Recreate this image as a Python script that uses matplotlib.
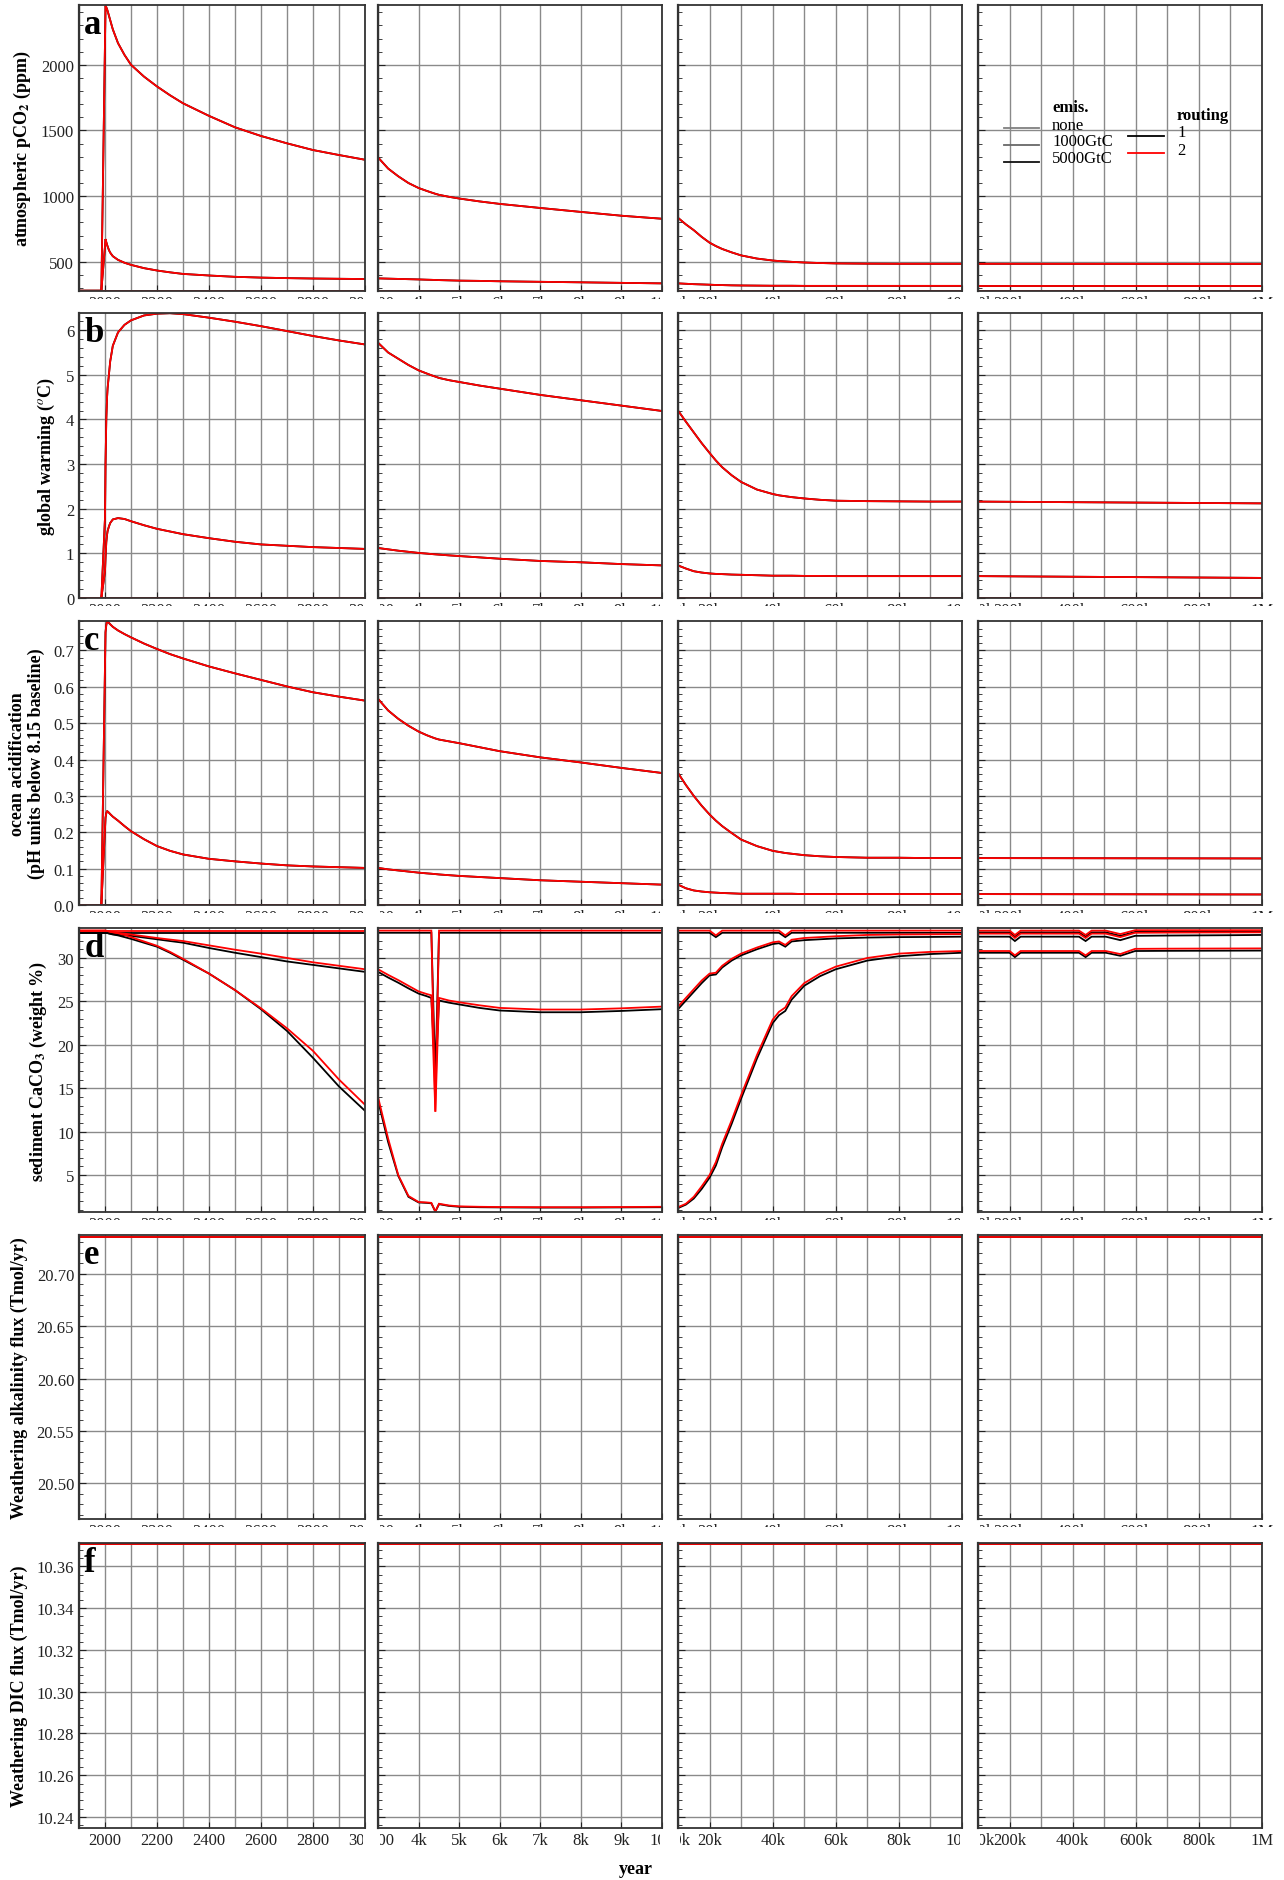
import matplotlib
matplotlib.use("Agg")
import matplotlib.pyplot as plt
from matplotlib.ticker import FixedLocator, FuncFormatter, MultipleLocator, FormatStrFormatter
from matplotlib.transforms import Bbox, TransformedBbox

plt.rcParams["font.family"] = ["Liberation Serif", "DejaVu Serif"]
plt.rcParams["mathtext.fontset"] = "stix"

# ---------------------------------------------------------------- data
# time axis of each column (years)
COL_LIMITS = [(1900, 3000), (3000, 10000), (10000, 100000), (100000, 1000000)]
X1 = [1900, 1986, 2000, 2002, 2005, 2008, 2010, 2015, 2020, 2030, 2050, 2075,
      2100, 2150, 2200, 2250, 2300, 2400, 2500, 2600, 2700, 2800, 2900, 3000]
X2 = [3000, 3250, 3500, 3750, 4000, 4200, 4315, 4413, 4504, 4750, 5000, 5500,
      6000, 7000, 8000, 9000, 10000]
X3 = [10000, 12500, 15000, 17500, 20000, 22000, 24000, 27000, 30000, 35000,
      40000, 42000, 44000, 46000, 50000, 55000, 60000, 70000, 80000, 90000, 100000]
X4 = [100000, 200000, 217000, 235000, 420000, 441000, 460000, 505000, 551000,
      598000, 700000, 800000, 900000, 1000000]
X4_FLAT = [100000, 1000000]

# atmospheric pCO2 (ppm)
PCO2_NONE = [280, 280]
PCO2_1000_1 = [280, 280, 620, 673, 650, 630, 618, 590, 570, 543, 515, 493,
               477, 452, 434, 420, 408, 396, 386, 380, 376, 373, 371, 369]
PCO2_5000_1 = [280, 280, 2180, 2450, 2438, 2422, 2410, 2375, 2340, 2270, 2165, 2075,
               2000, 1910, 1835, 1768, 1707, 1611, 1524, 1458, 1402, 1351, 1313, 1277]
PCO2_1000_2 = [374, 372, 370, 368, 366, 364, 363, 362, 361, 359, 357, 355, 352, 348, 344, 340, 336]
PCO2_5000_2 = [1295, 1210, 1151, 1100, 1062, 1040, 1028, 1018, 1010, 995, 982, 960,
               941, 910, 880, 851, 828]
PCO2_1000_3 = [336, 333, 330, 328, 326, 324, 323, 321, 320, 319, 318, 318, 318, 318,
               317, 317, 317, 317, 317, 317, 317]
PCO2_5000_3 = [835, 785, 741, 690, 646, 620, 598, 572, 549, 525, 510, 506, 503, 500,
               495, 491, 488, 486, 485, 485, 485]
PCO2_1000_4 = [317, 317]
PCO2_5000_4 = [485, 484]

# global warming (deg C)
TEMP_NONE = [0, 0]
TEMP_1000_1 = [0, 0, 0.6, 0.9, 1.25, 1.42, 1.5, 1.6, 1.68, 1.76, 1.79, 1.77,
               1.72, 1.63, 1.55, 1.49, 1.43, 1.34, 1.26, 1.20, 1.17, 1.14, 1.12, 1.10]
TEMP_5000_1 = [0, 0, 1.8, 3.0, 4.0, 4.5, 4.7, 5.0, 5.3, 5.65, 5.95, 6.12,
               6.22, 6.33, 6.37, 6.38, 6.36, 6.28, 6.19, 6.09, 5.98, 5.87, 5.77, 5.68]
TEMP_1000_2 = [1.12, 1.09, 1.06, 1.035, 1.01, 0.995, 0.985, 0.978, 0.972, 0.955, 0.94,
               0.91, 0.88, 0.83, 0.80, 0.76, 0.73]
TEMP_5000_2 = [5.72, 5.5, 5.36, 5.22, 5.1, 5.03, 4.99, 4.96, 4.93, 4.88, 4.84, 4.76,
               4.69, 4.55, 4.43, 4.31, 4.19]
TEMP_1000_3 = [0.73, 0.66, 0.6, 0.57, 0.55, 0.54, 0.535, 0.525, 0.52, 0.51, 0.50, 0.50,
               0.50, 0.50, 0.495, 0.495, 0.49, 0.49, 0.49, 0.49, 0.49]
TEMP_5000_3 = [4.2, 3.95, 3.71, 3.47, 3.25, 3.08, 2.93, 2.75, 2.6, 2.43, 2.33, 2.3,
               2.28, 2.26, 2.23, 2.2, 2.18, 2.17, 2.165, 2.16, 2.16]
TEMP_1000_4 = [0.49, 0.45]
TEMP_5000_4 = [2.16, 2.12]

# ocean acidification (pH units below 8.15)
PH_NONE = [0, 0]
PH_1000_1 = [0, 0, 0.21, 0.24, 0.252, 0.259, 0.257, 0.254, 0.25, 0.243, 0.232, 0.217,
             0.203, 0.181, 0.162, 0.149, 0.139, 0.127, 0.12, 0.114, 0.109, 0.106, 0.104, 0.102]
PH_5000_1 = [0, 0, 0.66, 0.75, 0.77, 0.78, 0.779, 0.776, 0.772, 0.765, 0.755, 0.745,
             0.736, 0.719, 0.704, 0.69, 0.678, 0.656, 0.637, 0.619, 0.601, 0.585, 0.573, 0.562]
PH_1000_2 = [0.102, 0.098, 0.095, 0.092, 0.089, 0.087, 0.086, 0.085, 0.084, 0.082, 0.080,
             0.077, 0.074, 0.068, 0.064, 0.060, 0.056]
PH_5000_2 = [0.567, 0.535, 0.512, 0.493, 0.477, 0.467, 0.462, 0.458, 0.455, 0.45, 0.445,
             0.434, 0.423, 0.406, 0.392, 0.377, 0.363]
PH_1000_3 = [0.056, 0.046, 0.04, 0.037, 0.035, 0.034, 0.033, 0.032, 0.031, 0.031, 0.031,
             0.031, 0.031, 0.031, 0.030, 0.030, 0.030, 0.030, 0.030, 0.030, 0.030]
PH_5000_3 = [0.363, 0.33, 0.30, 0.273, 0.249, 0.232, 0.217, 0.198, 0.18, 0.162, 0.149,
             0.146, 0.143, 0.141, 0.137, 0.134, 0.132, 0.13, 0.13, 0.129, 0.129]
PH_1000_4 = [0.030, 0.029]
PH_5000_4 = [0.129, 0.128]

# sediment CaCO3 (weight %), routing 1 (R1) and routing 2 (R2)
SED_NONE_X1 = [1900, 3000]
SED_NONE_R1_1 = [32.9, 32.9]
SED_NONE_R2_1 = [33.15, 33.15]
SED_1000_R1_1 = [32.9, 32.9, 32.9, 32.89, 32.88, 32.87, 32.86, 32.83, 32.8, 32.75, 32.68, 32.62,
                 32.55, 32.35, 32.15, 31.95, 31.76, 31.15, 30.6, 30.1, 29.6, 29.2, 28.8, 28.4]
SED_1000_R2_1 = [33.15, 33.15, 33.15, 33.14, 33.13, 33.12, 33.1, 33.07, 33.03, 32.98, 32.88, 32.8,
                 32.7, 32.5, 32.3, 32.12, 31.95, 31.45, 30.95, 30.5, 30.0, 29.5, 29.1, 28.7]
SED_5000_R1_1 = [32.9, 32.9, 32.9, 32.89, 32.88, 32.87, 32.86, 32.82, 32.78, 32.7, 32.6, 32.4,
                 32.2, 31.75, 31.3, 30.6, 29.8, 28.2, 26.3, 24.1, 21.6, 18.5, 15.2, 12.4]
SED_5000_R2_1 = [33.15, 33.15, 33.15, 33.14, 33.13, 33.12, 33.1, 33.06, 33.02, 32.95, 32.85, 32.65,
                 32.4, 31.9, 31.4, 30.7, 29.9, 28.2, 26.3, 24.2, 21.9, 19.3, 16.0, 13.1]

SED_NONE_X2 = [3000, 4315, 4413, 4504, 10000]
SED_NONE_R1_2 = [32.9, 32.9, 16.1, 32.9, 32.9]
SED_NONE_R2_2 = [33.15, 33.15, 12.3, 33.15, 33.15]
SED_1000_R1_2 = [28.4, 27.75, 27.15, 26.5, 25.9, 25.6, 25.4, 16.1, 25.1, 24.85, 24.65, 24.25,
                 23.95, 23.75, 23.75, 23.9, 24.1]
SED_1000_R2_2 = [28.7, 28.05, 27.45, 26.8, 26.15, 25.85, 25.7, 12.3, 25.4, 25.1, 24.9, 24.55,
                 24.25, 24.06, 24.06, 24.2, 24.4]
SED_5000_R1_2 = [13.6, 8.8, 4.9, 2.5, 1.85, 1.8, 1.75, 0.8, 1.65, 1.45, 1.35, 1.3,
                 1.28, 1.26, 1.26, 1.28, 1.3]
SED_5000_R2_2 = [14.0, 9.2, 5.0, 2.6, 1.9, 1.85, 1.8, 0.8, 1.7, 1.5, 1.4, 1.35,
                 1.32, 1.3, 1.3, 1.32, 1.35]

SED_NONE_X3 = [10000, 20000, 22000, 24000, 42000, 44000, 46000, 100000]
SED_NONE_R1_3 = [32.9, 32.9, 32.4, 32.9, 32.9, 32.4, 32.9, 32.9]
SED_NONE_R2_3 = [33.15, 33.15, 32.6, 33.15, 33.15, 32.6, 33.15, 33.15]
SED_1000_R1_3 = [24.1, 25.1, 26.1, 27.1, 28.0, 28.1, 28.9, 29.7, 30.3, 31.0, 31.6, 31.7,
                 31.3, 31.9, 32.05, 32.15, 32.25, 32.35, 32.4, 32.42, 32.45]
SED_1000_R2_3 = [24.4, 25.4, 26.4, 27.4, 28.2, 28.3, 29.1, 29.9, 30.5, 31.2, 31.8, 31.9,
                 31.5, 32.1, 32.3, 32.4, 32.5, 32.65, 32.7, 32.72, 32.75]
SED_5000_R1_3 = [1.2, 1.6, 2.3, 3.4, 4.7, 6.1, 8.2, 10.9, 13.8, 18.4, 22.5, 23.4,
                 23.9, 25.2, 26.8, 27.9, 28.7, 29.7, 30.2, 30.45, 30.6]
SED_5000_R2_3 = [1.3, 1.7, 2.5, 3.7, 5.0, 6.5, 8.6, 11.3, 14.2, 18.8, 22.9, 23.8,
                 24.3, 25.6, 27.1, 28.2, 29.0, 30.0, 30.5, 30.7, 30.8]

SED_NONE_R1_4 = [32.95, 32.95, 32.45, 32.95, 32.95, 32.45, 32.95, 32.95, 32.55, 33.0, 33.0, 33.0, 33.0, 33.0]
SED_NONE_R2_4 = [33.15, 33.15, 32.65, 33.15, 33.15, 32.65, 33.15, 33.15, 32.75, 33.2, 33.2, 33.2, 33.2, 33.2]
SED_1000_R1_4 = [32.45, 32.45, 31.95, 32.45, 32.45, 31.95, 32.45, 32.45, 32.05, 32.55, 32.58, 32.6, 32.62, 32.65]
SED_1000_R2_4 = [32.8, 32.8, 32.3, 32.8, 32.8, 32.3, 32.8, 32.8, 32.4, 32.9, 32.92, 32.93, 32.94, 32.95]
SED_5000_R1_4 = [30.6, 30.6, 30.1, 30.6, 30.6, 30.1, 30.6, 30.6, 30.25, 30.8, 30.82, 30.83, 30.84, 30.85]
SED_5000_R2_4 = [30.8, 30.8, 30.3, 30.8, 30.8, 30.3, 30.8, 30.8, 30.45, 31.05, 31.07, 31.08, 31.09, 31.1]

# weathering fluxes (Tmol/yr), constant in every run
ALK_FLUX = [20.735, 20.735]
DIC_FLUX = [10.3705, 10.3705]

ROW_LETTERS = ["a", "b", "c", "d", "e", "f"]
ROW_LABELS = [
    r"atmospheric pCO$_\mathbf{2}$ (ppm)",
    r"global warming ($^o$C)",
    "ocean acidification\n(pH units below 8.15 baseline)",
    r"sediment CaCO$_\mathbf{3}$ (weight %)",
    "Weathering alkalinity flux (Tmol/yr)",
    "Weathering DIC flux (Tmol/yr)",
]
ROW_YLIM = [(278, 2455), (0, 6.385), (0, 0.781), (0.75, 33.45), (20.466, 20.737), (10.2347, 10.3712)]
ROW_YSTEP = [(500, 100), (1, 0.2), (0.1, 0.02), (5, 1), (0.05, 0.01), (0.02, 0.004)]
ROW_YFMT = ["%d", "%d", "%.1f", "%d", "%.2f", "%.2f"]

COL_XTICKS = [
    [2000, 2200, 2400, 2600, 2800, 3000],
    [3000, 4000, 5000, 6000, 7000, 8000, 9000, 10000],
    [10000, 20000, 40000, 60000, 80000, 100000],
    [100000, 200000, 400000, 600000, 800000, 1000000],
]
COL_XGRID = [100, 1000, 10000, 100000]

EMIS_LABELS = ["none", "1000GtC", "5000GtC"]
EMIS_COLORS = ["#808080", "#686868", "#111111"]
ROUTING_LABELS = ["1", "2"]
ROUTING_COLORS = ["black", "red"]

# ---------------------------------------------------------------- layout (pixels)
FIG_W, FIG_H = 1284, 1881
COL_PX = [(79, 365), (378, 662), (678, 962), (978, 1262)]
ROW_PX = [(6, 292), (314, 599), (622, 906), (929, 1213), (1236, 1520), (1544, 1829)]


def same(x, y):
    return (x, y, y)


def series(row, col):
    """Return (x, routing1, routing2) tuples for one panel."""
    lim = list(COL_LIMITS[col])
    smooth_x = [X1, X2, X3, X4_FLAT][col]
    if row == 0:
        return [same(lim, PCO2_NONE),
                same(smooth_x, [PCO2_1000_1, PCO2_1000_2, PCO2_1000_3, PCO2_1000_4][col]),
                same(smooth_x, [PCO2_5000_1, PCO2_5000_2, PCO2_5000_3, PCO2_5000_4][col])]
    if row == 1:
        return [same(lim, TEMP_NONE),
                same(smooth_x, [TEMP_1000_1, TEMP_1000_2, TEMP_1000_3, TEMP_1000_4][col]),
                same(smooth_x, [TEMP_5000_1, TEMP_5000_2, TEMP_5000_3, TEMP_5000_4][col])]
    if row == 2:
        return [same(lim, PH_NONE),
                same(smooth_x, [PH_1000_1, PH_1000_2, PH_1000_3, PH_1000_4][col]),
                same(smooth_x, [PH_5000_1, PH_5000_2, PH_5000_3, PH_5000_4][col])]
    if row == 3:
        sed_x = [X1, X2, X3, X4][col]
        none_x = [SED_NONE_X1, SED_NONE_X2, SED_NONE_X3, X4][col]
        return [
            (none_x, [SED_NONE_R1_1, SED_NONE_R1_2, SED_NONE_R1_3, SED_NONE_R1_4][col],
             [SED_NONE_R2_1, SED_NONE_R2_2, SED_NONE_R2_3, SED_NONE_R2_4][col]),
            (sed_x, [SED_1000_R1_1, SED_1000_R1_2, SED_1000_R1_3, SED_1000_R1_4][col],
             [SED_1000_R2_1, SED_1000_R2_2, SED_1000_R2_3, SED_1000_R2_4][col]),
            (sed_x, [SED_5000_R1_1, SED_5000_R1_2, SED_5000_R1_3, SED_5000_R1_4][col],
             [SED_5000_R2_1, SED_5000_R2_2, SED_5000_R2_3, SED_5000_R2_4][col]),
        ]
    flux = ALK_FLUX if row == 4 else DIC_FLUX
    return [same(lim, flux)]


def xfmt(col):
    def fmt(v, _pos):
        if col == 0 or v == 3000:
            return f"{v:.0f}"
        if v >= 1e6:
            return "1M"
        return f"{v / 1000:.0f}k"
    return FuncFormatter(fmt)


fig = plt.figure(figsize=(FIG_W / 100, FIG_H / 100), dpi=100)
axes = {}
for r, (top, bottom) in enumerate(ROW_PX):
    for c, (left, right) in enumerate(COL_PX):
        ax = fig.add_axes([left / FIG_W, 1 - bottom / FIG_H,
                           (right - left) / FIG_W, (bottom - top) / FIG_H])
        axes[r, c] = ax
        panel = series(r, c)
        for x, y1, _ in panel:
            ax.plot(x, y1, color=ROUTING_COLORS[0], lw=1.3, solid_joinstyle="miter")
        for x, _, y2 in panel:
            ax.plot(x, y2, color=ROUTING_COLORS[1], lw=1.3, solid_joinstyle="miter")

        ax.set_xlim(*COL_LIMITS[c])
        ax.set_ylim(*ROW_YLIM[r])
        ax.xaxis.set_major_locator(FixedLocator(COL_XTICKS[c]))
        ax.xaxis.set_minor_locator(MultipleLocator(COL_XGRID[c]))
        ax.xaxis.set_major_formatter(xfmt(c))
        ax.yaxis.set_major_locator(MultipleLocator(ROW_YSTEP[r][0]))
        ax.yaxis.set_minor_locator(MultipleLocator(ROW_YSTEP[r][1]))
        ax.yaxis.set_major_formatter(FormatStrFormatter(ROW_YFMT[r]))

        ax.grid(True, axis="x", which="both", color="#8a8a8a", lw=1.0)
        ax.grid(True, axis="y", which="major", color="#8a8a8a", lw=1.0)
        ax.set_axisbelow(True)
        ax.tick_params(axis="both", which="both", direction="in", top=False, right=False,
                       colors="#222222", labelcolor="#222222", labelsize=12)
        ax.tick_params(axis="x", which="major", length=4, pad=3)
        ax.tick_params(axis="x", which="minor", length=0)
        ax.tick_params(axis="y", which="major", length=5)
        ax.tick_params(axis="y", which="minor", length=3)
        if c > 0:
            ax.tick_params(axis="y", labelleft=False)
        for sp in ax.spines.values():
            sp.set_color("#333333")
            sp.set_linewidth(1.3)
        ax.spines["left"].set_linewidth(1.6)

        if c == 0:
            ax.set_ylabel(ROW_LABELS[r], fontsize=13, fontweight="bold", labelpad=6,
                          linespacing=1.1)
            ax.text(0.018, 0.988, ROW_LETTERS[r], transform=ax.transAxes, ha="left",
                    va="top", fontsize=25, fontweight="bold")

# x tick labels are clipped to their own panel; only a sliver shows for upper rows
px, py = 1.0 / FIG_W, 1.0 / FIG_H
for (r, c), ax in axes.items():
    pos = ax.get_position()
    x0 = pos.x0 + 2 * px
    x1 = 1.0 if c == 3 else pos.x1 - 2 * px
    y0 = 0.0 if r == 5 else pos.y0 - 8 * py
    box = TransformedBbox(Bbox([[x0, y0], [x1, pos.y0]]), fig.transFigure)
    for t in ax.xaxis.get_majorticklabels():
        t.set_clip_box(box)
        t.set_clip_on(True)

# legend inside panel a, column 4
lax = axes[0, 3]
lax.text(0.261, 0.643, "emis.", transform=lax.transAxes, fontsize=12,
         fontweight="bold", va="center", ha="left")
for i, (lab, col) in enumerate(zip(EMIS_LABELS, EMIS_COLORS)):
    ty = [0.580, 0.524, 0.465][i]
    ly = [0.570, 0.510, 0.451][i]
    lax.plot([0.092, 0.215], [ly, ly], transform=lax.transAxes, color=col, lw=1.3)
    lax.text(0.261, ty, lab, transform=lax.transAxes, fontsize=12, va="center", ha="left")
lax.text(0.701, 0.615, "routing", transform=lax.transAxes, fontsize=12,
         fontweight="bold", va="center", ha="left")
for i, (lab, col) in enumerate(zip(ROUTING_LABELS, ROUTING_COLORS)):
    ty = [0.556, 0.494][i]
    ly = [0.542, 0.483][i]
    lax.plot([0.528, 0.655], [ly, ly], transform=lax.transAxes, color=col, lw=1.3)
    lax.text(0.701, ty, lab, transform=lax.transAxes, fontsize=12, va="center", ha="left")

fig.text(636 / FIG_W, 1 - 1870 / FIG_H, "year", fontsize=13, fontweight="bold",
         ha="center", va="center")

fig.savefig("out.png", dpi=100)
